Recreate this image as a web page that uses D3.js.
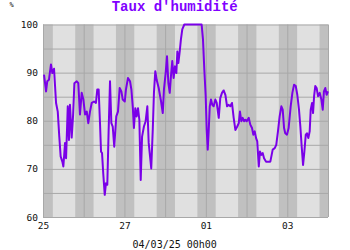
<!DOCTYPE html>
<html>
<head>
<meta charset="utf-8">
<script src="https://cdn.jsdelivr.net/npm/d3@7"></script>
<style>
  body { margin: 0; background: #fff; }
  svg text { font-family: "DejaVu Sans Mono", monospace; }
</style>
</head>
<body>
<div id="chart"></div>
<script>
// hours since 25/02/25 00h00
const hours = [0.6, 1.8, 2.5, 3.5, 4.7, 5.5, 6.5, 7.7, 8.7, 9.6, 10.4, 11.4, 12.0, 13.0, 13.6, 14.6, 15.3, 15.9, 16.9, 17.7,
    18.5, 19.9, 20.8, 21.8, 22.8, 23.8, 24.8, 25.8, 26.7, 27.7, 28.7, 30.1, 31.2, 32.0, 32.8, 33.6, 34.2, 34.8, 35.5, 36.4,
    37.1, 37.9, 38.7, 39.5, 40.3, 41.1, 42.0, 43.2, 44.2, 45.2, 46.2, 47.0, 48.2, 48.9, 50.1, 51.3, 52.1, 52.9, 53.6, 54.4,
    55.2, 56.0, 56.8, 57.6, 58.4, 59.5, 60.5, 61.5, 62.3, 63.1, 63.8, 64.7, 65.4, 66.2, 67.0, 68.2, 69.6, 70.6, 71.3, 72.3,
    73.1, 73.9, 74.7, 75.5, 76.2, 77.0, 77.8, 78.6, 79.2, 79.8, 80.6, 81.3, 82.1, 83.3, 88.0, 93.5, 94.3, 95.1, 95.9, 96.5,
    97.1, 97.7, 98.3, 99.0, 99.8, 100.6, 101.6, 102.4, 103.6, 104.5, 105.5, 106.5, 107.5, 108.5, 109.5, 110.4, 111.4, 112.4, 113.4, 114.5,
    115.4, 116.1, 116.9, 117.7, 118.5, 119.3, 120.1, 121.3, 122.2, 123.2, 124.0, 124.8, 125.6, 126.3, 127.2, 127.9, 128.7, 129.5, 130.3, 131.5,
    132.6, 134.0, 135.4, 136.6, 137.5, 138.5, 139.5, 140.5, 141.3, 142.1, 142.8, 143.8, 144.8, 146.0, 147.0, 148.0, 149.0, 149.9, 150.9, 151.7,
    152.5, 153.3, 154.0, 154.9, 155.6, 156.4, 157.2, 157.8, 158.6, 159.2, 159.8, 160.5, 161.3, 162.1, 163.1, 164.1, 164.9, 165.6, 166.4, 167.2, 168.0];
const humidity = [89.6, 86.1, 88.2, 88.5, 91.7, 89.9, 90.8, 83.7, 81.9, 76.7, 72.6, 71.5, 70.5, 75.4, 72.2, 83.0, 76.0, 83.3, 76.5, 80.9,
    87.8, 88.2, 87.8, 81.3, 85.8, 84.4, 81.3, 81.9, 79.5, 81.9, 83.7, 84.0, 83.7, 86.5, 86.5, 79.5, 73.6, 73.3, 69.1, 64.6,
    67.0, 66.7, 78.1, 88.2, 79.5, 78.8, 74.6, 80.9, 81.9, 86.8, 86.1, 84.4, 84.0, 86.5, 88.9, 88.2, 86.5, 83.0, 78.5, 82.6,
    80.9, 82.6, 80.2, 67.7, 76.7, 78.8, 79.9, 83.0, 75.4, 72.6, 70.1, 78.1, 85.8, 90.3, 88.5, 86.8, 84.0, 81.6, 86.5, 89.9,
    93.4, 87.8, 85.8, 89.6, 92.4, 88.9, 91.3, 89.9, 94.4, 92.0, 94.4, 96.9, 99.0, 100, 100, 100, 96.9, 90.6, 85.1, 78.1,
    74.0, 78.1, 83.0, 84.4, 83.3, 83.0, 84.4, 83.7, 80.6, 84.7, 85.8, 86.3, 85.4, 83.0, 83.3, 83.0, 83.7, 80.6, 78.1, 78.8,
    79.5, 81.9, 79.9, 80.6, 79.9, 80.2, 79.9, 80.6, 79.2, 78.5, 77.1, 77.8, 76.4, 75.7, 70.5, 73.6, 72.9, 73.3, 72.2, 71.5,
    71.5, 71.5, 74.0, 74.3, 75.0, 77.8, 80.9, 83.0, 82.3, 78.5, 77.4, 77.1, 78.5, 83.0, 85.8, 87.5, 87.2, 85.4, 82.3, 78.8,
    74.6, 70.8, 73.3, 77.1, 77.4, 76.4, 77.8, 82.3, 83.7, 81.6, 85.1, 87.2, 86.8, 85.1, 85.8, 84.4, 82.3, 86.1, 86.8, 85.4, 86.1];
const yTicks = [60, 70, 80, 90, 100];
const yGrid = [60, 65, 70, 75, 80, 85, 90, 95, 100];
const nightStart = 19.0, nightEnd = 5.8;   // hours of the day
const title = "Taux d'humidité";
const footer = "04/03/25 00h00";

const W = 350, H = 250;
const margin = {top: 24.5, right: 22, bottom: 33, left: 43};
const width = W - margin.left - margin.right;
const height = H - margin.top - margin.bottom;

const t0 = Date.UTC(2025, 1, 25);
const t1 = Date.UTC(2025, 2, 4);
const toDate = h => new Date(t0 + h * 3600e3);

const x = d3.scaleUtc().domain([t0, t1]).range([0, width]);
const y = d3.scaleLinear().domain([60, 100]).range([height, 0]);

const svg = d3.select('#chart').append('svg')
    .attr('width', W)
    .attr('height', H);

const g = svg.append('g').attr('transform', `translate(${margin.left},${margin.top})`);

// day background + night bands
g.append('rect')
    .attr('width', width)
    .attr('height', height)
    .attr('fill', '#e0e0e0');

const nights = d3.range(-1, 8).map(d => [
    Math.max(0, d * 24 + nightStart),
    Math.min(168, (d + 1) * 24 + nightEnd)
]).filter(n => n[1] > n[0]);

g.selectAll('rect.night')
    .data(nights)
    .enter()
    .append('rect')
        .attr('class', 'night')
        .attr('x', d => x(toDate(d[0])))
        .attr('width', d => x(toDate(d[1])) - x(toDate(d[0])))
        .attr('y', 0)
        .attr('height', height)
        .attr('fill', '#c0c0c0');

// grid
g.append('g')
    .call(d3.axisLeft(y).tickValues(yGrid).tickSize(-width).tickFormat(''))
    .call(a => a.select('.domain').remove())
    .selectAll('line').attr('stroke', '#a8a8a8');

g.append('g')
    .attr('transform', `translate(0,${height})`)
    .call(d3.axisBottom(x).ticks(d3.utcDay.every(1)).tickSize(-height).tickFormat(''))
    .call(a => a.select('.domain').remove())
    .selectAll('line').attr('stroke', '#a8a8a8');

// axes labels
g.append('g')
    .call(d3.axisLeft(y).tickValues(yTicks).tickSize(0).tickPadding(5))
    .call(a => a.select('.domain').remove())
    .selectAll('text')
        .style('font-size', '9.5px')
        .attr('fill', '#111');

g.append('g')
    .attr('transform', `translate(0,${height})`)
    .call(d3.axisBottom(x).ticks(d3.utcDay.every(2)).tickFormat(d3.utcFormat('%d')).tickSize(0).tickPadding(5))
    .call(a => a.select('.domain').remove())
    .selectAll('text')
        .style('font-size', '9.5px')
        .attr('fill', '#111');

// humidity line
const data = hours.map((h, i) => ({t: toDate(h), v: humidity[i]}));
g.append('path')
    .datum(data)
    .attr('fill', 'none')
    .attr('stroke', '#7a00e8')
    .attr('stroke-width', 2)
    .attr('stroke-linejoin', 'round')
    .attr('d', d3.line().x(d => x(d.t)).y(d => y(d.v)));

svg.append('text')
    .attr('x', 174.7)
    .attr('y', 11)
    .attr('text-anchor', 'middle')
    .style('font-family', '"Liberation Mono", monospace')
    .style('font-weight', 'bold')
    .style('font-size', '14px')
    .attr('fill', '#8000ff')
    .text(title);

svg.append('text')
    .attr('x', 11.5)
    .attr('y', 7)
    .attr('text-anchor', 'middle')
    .style('font-size', '7px')
    .attr('fill', '#111')
    .text('%');

svg.append('text')
    .attr('x', 174.7)
    .attr('y', 247.5)
    .attr('text-anchor', 'middle')
    .style('font-size', '10px')
    .attr('fill', '#111')
    .text(footer);
</script>
</body>
</html>
